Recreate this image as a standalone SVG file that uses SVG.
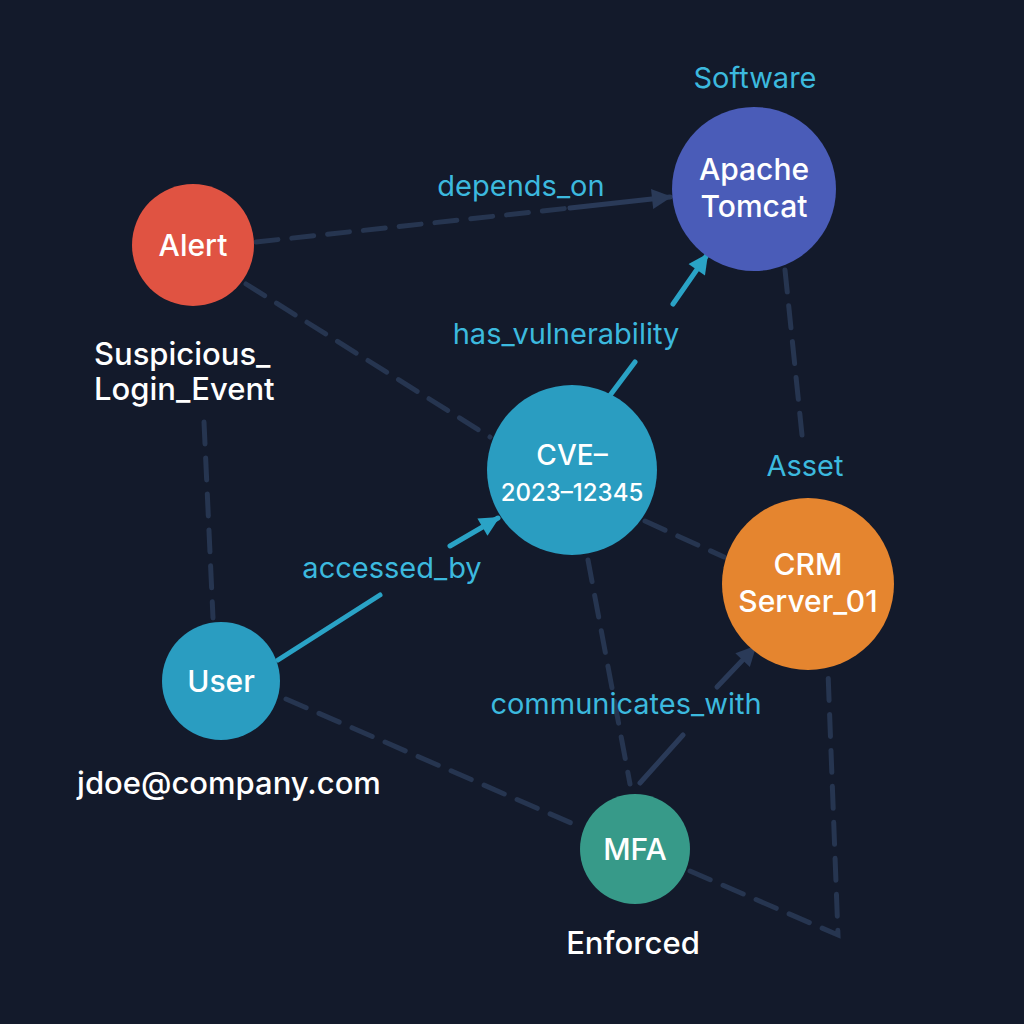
<svg xmlns="http://www.w3.org/2000/svg" width="1024" height="1024" viewBox="0 0 1024 1024">
<defs>
<style>
.dash{fill:none;stroke:#263550;stroke-width:5;stroke-dasharray:22 14;stroke-linecap:round}
.dk{fill:none;stroke:#2a3a58;stroke-width:5;stroke-linecap:round}
.cy{fill:none;stroke:#2aa3c6;stroke-width:5;stroke-linecap:round}
.lbl{font-family:Inter,"Liberation Sans",sans-serif;font-size:29px;fill:#3cb9de;text-anchor:middle}
.nt{font-family:Inter,"Liberation Sans",sans-serif;font-size:30px;font-weight:500;fill:#ffffff;text-anchor:middle}
.wt{font-family:Inter,"Liberation Sans",sans-serif;font-size:31px;font-weight:500;fill:#ffffff}
</style>
<marker id="ad" viewBox="0 0 10 10" refX="9" refY="5" markerWidth="22" markerHeight="20" markerUnits="userSpaceOnUse" orient="auto"><path d="M0,0 L10,5 L0,10 Z" fill="#2a3a58"/></marker>
<marker id="ac" viewBox="0 0 10 10" refX="9" refY="5" markerWidth="22" markerHeight="20" markerUnits="userSpaceOnUse" orient="auto"><path d="M0,0 L10,5 L0,10 Z" fill="#2aa3c6"/></marker>
</defs>
<rect width="1024" height="1024" fill="#131a2b"/>
<g id="connectors">
<path class="dash" d="M256,242 L570,208"/>
<path class="dk" d="M570,208 L670,197" marker-end="url(#ad)"/>
<path class="dash" d="M246,284 L490,437"/>
<path class="dash" d="M204,422 L213,618"/>
<path class="dash" d="M785,270 L802,435"/>
<path class="dash" d="M645,521 L724,557"/>
<path class="dash" d="M588,560 L630,784"/>
<path class="dash" d="M286,699 L578,826"/>
<path class="dash" d="M690,871 L838,935 L828,672"/>
<path class="dk" d="M640,783 L683,735"/>
<path class="dk" d="M717,687 L755,647" marker-end="url(#ad)"/>
<path class="cy" d="M608,398 L635,362"/>
<path class="cy" d="M673,304 L707,255" marker-end="url(#ac)"/>
<path class="cy" d="M278,660 L380,595"/>
<path class="cy" d="M450,546 L498,518" marker-end="url(#ac)"/>
<text class="lbl" x="521" y="196">depends_on</text>
<text class="lbl" x="566" y="344">has_vulnerability</text>
<text class="lbl" x="392" y="578">accessed_by</text>
<text class="lbl" x="626" y="714">communicates_with</text>
</g>
<g id="node-alert">
<circle cx="193" cy="245" r="61" fill="#e05342"/>
<text class="nt" x="193" y="256">Alert</text>
<text class="wt" x="94" y="365">Suspicious_</text>
<text class="wt" x="94" y="400">Login_Event</text>
</g>
<g id="node-tomcat">
<text class="lbl" x="755" y="88">Software</text>
<circle cx="754" cy="189" r="82" fill="#4a5cb8"/>
<text class="nt" x="754" y="180">Apache</text>
<text class="nt" x="754" y="217">Tomcat</text>
</g>
<g id="node-cve">
<circle cx="572" cy="470" r="85" fill="#2a9dc1"/>
<text class="nt" x="572" y="465" style="font-size:28px">CVE–</text>
<text class="nt" x="572" y="501" style="font-size:24px">2023–12345</text>
</g>
<g id="node-crm">
<text class="lbl" x="805" y="476">Asset</text>
<circle cx="808" cy="584" r="86" fill="#e5852f"/>
<text class="nt" x="808" y="575">CRM</text>
<text class="nt" x="808" y="612">Server_01</text>
</g>
<g id="node-user">
<circle cx="221" cy="681" r="59" fill="#2a9dc1"/>
<text class="nt" x="221" y="692">User</text>
<text class="nt" x="229" y="794" style="font-size:31px">jdoe@company.com</text>
</g>
<g id="node-mfa">
<circle cx="635" cy="849" r="55" fill="#379a89"/>
<text class="nt" x="635" y="860">MFA</text>
<text class="nt" x="633" y="954" style="font-size:31px">Enforced</text>
</g>
</svg>
